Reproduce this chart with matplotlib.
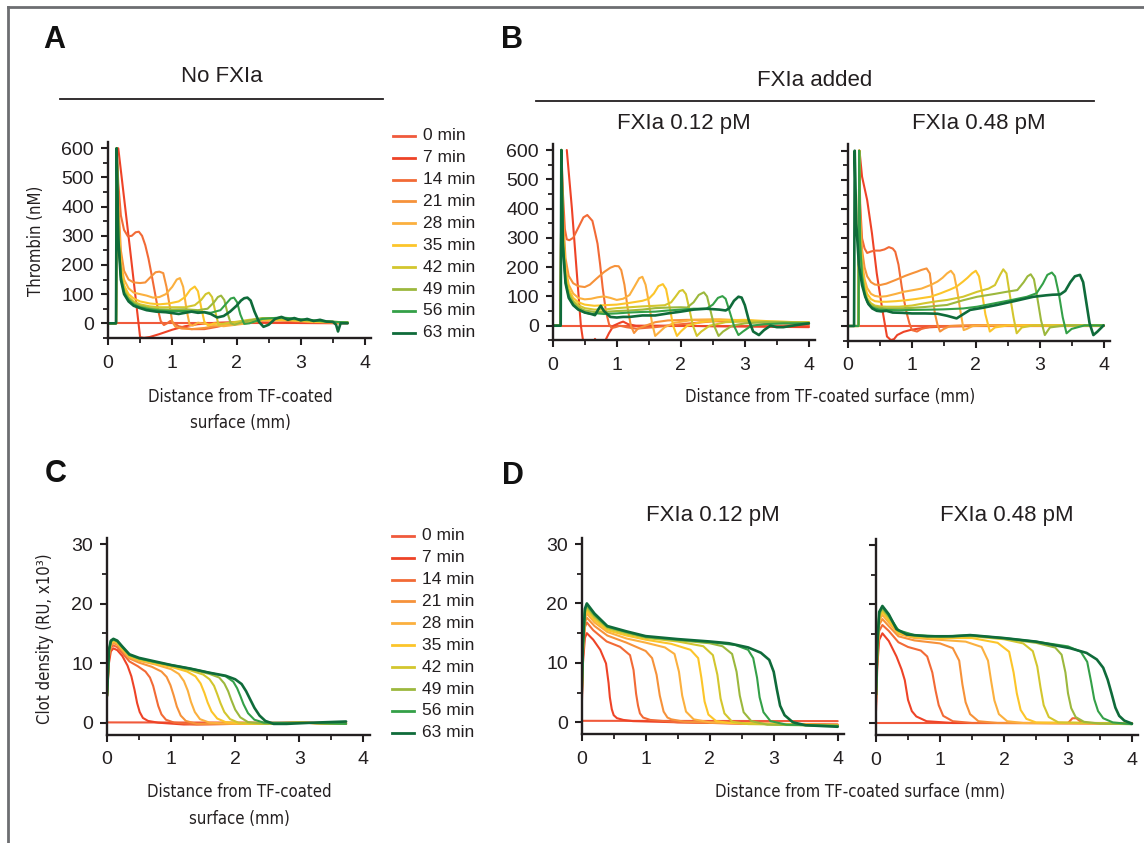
import matplotlib
matplotlib.use("Agg")
import matplotlib.pyplot as plt
from matplotlib import font_manager
from matplotlib.lines import Line2D
from matplotlib.ticker import MultipleLocator

W, H = 1144, 843

# ---- data -------------------------------------------------------------
TIMES = ['0 min', '7 min', '14 min', '21 min', '28 min',
         '35 min', '42 min', '49 min', '56 min', '63 min']
COLORS = ['#f05a3c', '#ee4327', '#f26a36', '#f6923a', '#fbb03f',
          '#fcc52a', '#d3c62e', '#9cb83d', '#34a048', '#0f6b3a']

# thrombin, no FXIa (panel A)
THR_A_X = [
    [0.13, 3.73],
    [0.16, 0.34, 0.5, 0.56, 0.65, 0.8, 1.0, 1.2, 1.4, 1.7, 2.0, 2.5, 3.0, 3.73],
    [0, 0.125, 0.135, 0.16, 0.2, 0.25, 0.31, 0.37, 0.43, 0.48, 0.53, 0.58, 0.63, 0.68, 0.73, 0.78, 0.82, 0.87, 0.92, 0.97, 1.02, 1.1, 1.3, 1.5, 1.7, 1.9, 2.2, 2.5, 2.8, 3.2, 3.73],
    [0, 0.125, 0.135, 0.16, 0.2, 0.25, 0.32, 0.4, 0.5, 0.58, 0.66, 0.74, 0.8, 0.86, 0.91, 0.96, 1.0, 1.05, 1.15, 1.3, 1.5, 1.7, 1.9, 2.2, 2.5, 2.8, 3.2, 3.73],
    [0, 0.125, 0.135, 0.16, 0.2, 0.25, 0.32, 0.4, 0.5, 0.6, 0.7, 0.8, 0.9, 1.0, 1.07, 1.12, 1.17, 1.22, 1.27, 1.32, 1.4, 1.55, 1.8, 2.1, 2.4, 2.8, 3.2, 3.73],
    [0, 0.125, 0.135, 0.16, 0.2, 0.25, 0.32, 0.4, 0.5, 0.65, 0.8, 0.95, 1.1, 1.2, 1.28, 1.35, 1.4, 1.45, 1.5, 1.56, 1.65, 1.8, 2.1, 2.4, 2.8, 3.2, 3.73],
    [0, 0.125, 0.135, 0.16, 0.2, 0.25, 0.32, 0.4, 0.5, 0.65, 0.8, 1.0, 1.2, 1.35, 1.45, 1.52, 1.57, 1.62, 1.67, 1.72, 1.78, 1.9, 2.2, 2.5, 2.8, 3.2, 3.73],
    [0, 0.125, 0.135, 0.16, 0.2, 0.25, 0.32, 0.4, 0.5, 0.65, 0.8, 1.0, 1.2, 1.4, 1.55, 1.65, 1.71, 1.76, 1.81, 1.86, 1.91, 1.97, 2.1, 2.4, 2.7, 3.0, 3.4, 3.73],
    [0, 0.125, 0.135, 0.16, 0.2, 0.25, 0.32, 0.4, 0.5, 0.65, 0.8, 1.0, 1.2, 1.4, 1.6, 1.75, 1.85, 1.91, 1.96, 2.01, 2.06, 2.12, 2.2, 2.4, 2.7, 3.0, 3.4, 3.73],
    [0, 0.125, 0.135, 0.16, 0.2, 0.25, 0.32, 0.4, 0.5, 0.6, 0.75, 0.9, 1.0, 1.1, 1.2, 1.3, 1.4, 1.5, 1.6, 1.7, 1.8, 1.9, 2.0, 2.07, 2.12, 2.17, 2.22, 2.28, 2.35, 2.42, 2.5, 2.6, 2.7, 2.8, 2.9, 3.0, 3.1, 3.2, 3.3, 3.4, 3.5, 3.55, 3.58, 3.62, 3.73],
]
THR_A_Y = [
    [0, 0],
    [600, 260, -48, -50, -47, -37, -22, -10, -3, 2, 4, 3, 1, 0],
    [0, 0, 600, 480, 370, 320, 298, 300, 312, 314, 300, 268, 222, 165, 105, 45, 8, -6, 0, 8, 2, -10, -20, -20, -12, -2, 8, 14, 8, 3, 2],
    [0, 0, 600, 420, 250, 180, 150, 140, 138, 140, 158, 175, 177, 172, 125, 60, 5, -12, -18, -20, -16, -8, 0, 10, 18, 12, 5, 2],
    [0, 0, 600, 380, 210, 150, 120, 105, 100, 95, 88, 90, 100, 125, 150, 155, 125, 50, -5, -8, 2, -3, -10, -2, 10, 10, 5, 2],
    [0, 0, 600, 350, 190, 130, 100, 85, 75, 68, 65, 68, 75, 90, 115, 126, 110, 55, 5, -8, 0, -2, 5, 12, 12, 6, 3],
    [0, 0, 600, 330, 175, 118, 90, 75, 65, 58, 55, 55, 55, 62, 80, 100, 105, 90, 40, -5, -2, 2, 12, 18, 14, 8, 3],
    [0, 0, 600, 310, 165, 110, 85, 70, 60, 52, 48, 47, 48, 45, 50, 72, 90, 95, 80, 35, 0, -5, 5, 18, 18, 12, 6, 3],
    [0, 0, 600, 300, 158, 105, 80, 65, 55, 48, 44, 42, 42, 40, 36, 45, 70, 85, 88, 72, 30, -2, 0, 15, 20, 14, 6, 3],
    [0, 0, 600, 290, 150, 100, 75, 60, 52, 45, 40, 38, 35, 32, 36, 40, 36, 38, 32, 20, 25, 40, 60, 78, 86, 88, 78, 40, 5, -12, -5, 15, 22, 12, 18, 10, 15, 8, 12, 6, 5, -5, -28, 0, 0],
]

# thrombin, FXIa 0.12 pM (panel B, left)
THR_B1_X = [
    [0.13, 4.0],
    [0.22, 0.3, 0.38, 0.44, 0.48, 0.55, 0.62, 0.66, 0.7, 0.8, 0.88, 0.95, 1.05, 1.1, 1.18, 1.3, 1.6, 2.0, 2.5, 3.0, 3.5, 4.0],
    [0, 0.125, 0.135, 0.16, 0.19, 0.22, 0.26, 0.32, 0.4, 0.48, 0.54, 0.58, 0.62, 0.66, 0.7, 0.74, 0.78, 0.83, 0.88, 0.92, 0.98, 1.05, 1.15, 1.3, 1.6, 2.0, 2.5, 3.0, 3.5, 4.0],
    [0, 0.125, 0.135, 0.16, 0.2, 0.25, 0.32, 0.4, 0.5, 0.58, 0.68, 0.8, 0.9, 0.97, 1.03, 1.07, 1.12, 1.17, 1.22, 1.27, 1.33, 1.45, 1.6, 1.8, 2.1, 2.5, 2.9, 3.3, 3.7, 4.0],
    [0, 0.125, 0.135, 0.16, 0.2, 0.25, 0.32, 0.4, 0.5, 0.6, 0.7, 0.8, 0.9, 1.0, 1.1, 1.2, 1.28, 1.35, 1.4, 1.45, 1.5, 1.55, 1.6, 1.65, 1.75, 1.9, 2.2, 2.6, 3.0, 3.4, 3.8, 4.0],
    [0, 0.125, 0.135, 0.16, 0.2, 0.25, 0.32, 0.4, 0.5, 0.65, 0.8, 1.0, 1.2, 1.4, 1.5, 1.58, 1.65, 1.72, 1.77, 1.82, 1.88, 1.94, 2.0, 2.1, 2.3, 2.6, 3.0, 3.4, 3.8, 4.0],
    [0, 0.125, 0.135, 0.16, 0.2, 0.25, 0.32, 0.4, 0.5, 0.65, 0.8, 1.0, 1.2, 1.4, 1.6, 1.75, 1.85, 1.92, 1.98, 2.03, 2.08, 2.13, 2.19, 2.25, 2.32, 2.45, 2.7, 3.0, 3.4, 3.8, 4.0],
    [0, 0.125, 0.135, 0.16, 0.2, 0.25, 0.32, 0.4, 0.5, 0.65, 0.8, 1.0, 1.2, 1.4, 1.6, 1.8, 2.0, 2.1, 2.2, 2.28, 2.36, 2.41, 2.46, 2.52, 2.59, 2.66, 2.8, 3.0, 3.3, 3.6, 4.0],
    [0, 0.125, 0.135, 0.16, 0.2, 0.25, 0.32, 0.4, 0.5, 0.6, 0.7, 0.8, 1.0, 1.2, 1.4, 1.6, 1.8, 2.0, 2.2, 2.4, 2.5, 2.58, 2.65, 2.7, 2.76, 2.83, 2.9, 2.97, 3.1, 3.3, 3.6, 4.0],
    [0, 0.125, 0.135, 0.16, 0.2, 0.25, 0.32, 0.4, 0.5, 0.6, 0.66, 0.71, 0.75, 0.8, 0.9, 1.0, 1.1, 1.2, 1.4, 1.6, 1.8, 2.0, 2.2, 2.4, 2.6, 2.7, 2.76, 2.83, 2.9, 2.95, 3.0, 3.06, 3.13, 3.22, 3.3, 3.4, 3.5, 3.6, 3.8, 4.0],
]
THR_B1_Y = [
    [0, 0],
    [600, 400, 170, 0, -60, -90, -70, -45, -60, -60, -25, 0, 10, 14, 5, 0, 0, 0, -2, -3, -4, -5],
    [0, 0, 600, 450, 330, 295, 292, 300, 335, 370, 378, 368, 358, 320, 280, 210, 130, 50, 5, -8, -5, 0, -5, -10, -5, 5, 15, 15, 8, 5],
    [0, 0, 600, 380, 230, 170, 145, 135, 132, 140, 160, 183, 198, 204, 203, 190, 140, 60, 0, -25, -10, 0, 12, 18, 20, 20, 18, 12, 8, 8],
    [0, 0, 600, 340, 200, 140, 110, 95, 90, 92, 97, 100, 95, 88, 92, 105, 135, 162, 167, 140, 80, 10, -35, -25, -5, 10, 20, 22, 18, 12, 10, 10],
    [0, 0, 600, 320, 185, 125, 95, 80, 72, 68, 70, 72, 78, 85, 92, 110, 135, 142, 125, 70, 0, -35, -20, 0, 12, 18, 20, 15, 12, 12],
    [0, 0, 600, 300, 170, 115, 85, 70, 60, 55, 55, 60, 63, 66, 68, 70, 80, 100, 118, 122, 108, 60, 0, -35, -20, 0, 12, 15, 14, 12, 12],
    [0, 0, 600, 290, 160, 108, 80, 62, 52, 47, 47, 50, 52, 55, 60, 62, 63, 62, 80, 105, 114, 100, 55, 0, -35, -20, 0, 8, 12, 12, 10],
    [0, 0, 600, 280, 150, 100, 72, 55, 45, 40, 42, 40, 42, 45, 47, 48, 52, 55, 58, 58, 72, 95, 101, 92, 50, 0, -32, -20, 0, 5, 8, 8],
    [0, 0, 600, 270, 145, 95, 70, 55, 45, 40, 36, 55, 68, 50, 30, 28, 30, 30, 35, 35, 42, 48, 55, 58, 55, 52, 60, 85, 99, 96, 70, 20, -20, -32, -15, 0, -5, -5, 2, 8],
]

# thrombin, FXIa 0.48 pM (panel B, right)
THR_B2_X = [
    [0.11, 4.0],
    [0.18, 0.22, 0.3, 0.375, 0.45, 0.53, 0.61, 0.67, 0.72, 0.77, 0.87, 0.97, 1.1, 1.23, 1.5, 2.0, 3.0, 4.0],
    [0, 0.165, 0.175, 0.19, 0.22, 0.26, 0.3, 0.36, 0.42, 0.5, 0.57, 0.64, 0.7, 0.74, 0.79, 0.84, 0.88, 0.92, 0.96, 1.0, 1.08, 1.15, 1.3, 1.6, 2.0, 3.0, 4.0],
    [0, 0.165, 0.175, 0.19, 0.22, 0.26, 0.3, 0.36, 0.42, 0.5, 0.6, 0.75, 0.9, 1.0, 1.08, 1.15, 1.23, 1.28, 1.32, 1.36, 1.4, 1.44, 1.5, 1.6, 2.0, 3.0, 4.0],
    [0, 0.165, 0.175, 0.19, 0.22, 0.26, 0.3, 0.36, 0.42, 0.5, 0.6, 0.75, 0.87, 1.0, 1.15, 1.29, 1.4, 1.48, 1.55, 1.61, 1.66, 1.71, 1.76, 1.81, 1.86, 1.95, 2.2, 3.0, 4.0],
    [0, 0.165, 0.175, 0.19, 0.22, 0.26, 0.3, 0.36, 0.42, 0.5, 0.6, 0.75, 0.9, 1.05, 1.2, 1.29, 1.45, 1.6, 1.7, 1.8, 1.87, 1.94, 2.0, 2.05, 2.1, 2.15, 2.22, 2.3, 2.5, 3.0, 4.0],
    [0, 0.165, 0.175, 0.19, 0.22, 0.26, 0.3, 0.36, 0.42, 0.5, 0.6, 0.8, 1.0, 1.2, 1.4, 1.55, 1.8, 2.02, 2.2, 2.3, 2.38, 2.43, 2.48, 2.53, 2.59, 2.64, 2.72, 2.9, 3.5, 4.0],
    [0, 0.165, 0.175, 0.19, 0.22, 0.26, 0.3, 0.36, 0.42, 0.5, 0.6, 0.8, 1.0, 1.2, 1.55, 1.8, 2.02, 2.3, 2.48, 2.65, 2.75, 2.81, 2.86, 2.91, 2.96, 3.02, 3.08, 3.16, 3.4, 4.0],
    [0, 0.165, 0.175, 0.19, 0.22, 0.26, 0.3, 0.36, 0.42, 0.5, 0.6, 0.8, 1.0, 1.3, 1.5, 1.8, 2.02, 2.3, 2.56, 2.8, 2.95, 3.05, 3.12, 3.19, 3.24, 3.3, 3.36, 3.42, 3.5, 3.7, 4.0],
    [0, 0.095, 0.105, 0.13, 0.17, 0.22, 0.27, 0.32, 0.38, 0.45, 0.52, 0.6, 0.7, 0.85, 1.0, 1.2, 1.4, 1.55, 1.7, 1.8, 1.91, 2.1, 2.33, 2.6, 2.9, 3.1, 3.2, 3.32, 3.4, 3.48, 3.55, 3.63, 3.68, 3.73, 3.78, 3.84, 3.9, 4.0],
]
THR_B2_Y = [
    [0, 0],
    [600, 511, 431, 317, 180, 66, -36, -48, -45, -31, -20, -14, -9, -5, -2, 0, 0, 0],
    [0, 0, 600, 420, 300, 265, 250, 255, 258, 258, 262, 270, 265, 254, 210, 135, 85, 43, 10, -14, -19, -10, -2, 0, 2, 3, 2],
    [0, 0, 600, 380, 260, 200, 170, 150, 142, 140, 145, 158, 172, 180, 186, 192, 197, 180, 110, 43, 5, -19, -10, 0, 3, 2, 2],
    [0, 0, 600, 340, 220, 160, 130, 110, 103, 100, 102, 110, 117, 122, 128, 140, 152, 165, 180, 189, 175, 120, 50, -14, -10, 0, 2, 2, 2],
    [0, 0, 600, 320, 200, 140, 110, 92, 85, 83, 83, 85, 88, 92, 97, 100, 112, 125, 135, 152, 165, 180, 189, 170, 110, 40, -19, -5, 2, 2, 2],
    [0, 0, 600, 300, 185, 125, 95, 78, 70, 67, 66, 66, 70, 78, 85, 89, 100, 117, 128, 140, 175, 194, 180, 110, 30, -25, -5, 2, 2, 2],
    [0, 0, 600, 290, 175, 118, 88, 72, 65, 62, 60, 60, 62, 65, 72, 88, 100, 110, 117, 123, 150, 170, 177, 160, 100, 20, -31, -5, 2, 2],
    [0, 0, 600, 280, 168, 110, 82, 66, 60, 56, 55, 54, 55, 56, 57, 60, 66, 78, 89, 100, 112, 145, 175, 183, 170, 110, 30, -25, -10, 2, 2],
    [0, 0, 600, 350, 210, 140, 100, 75, 60, 52, 50, 52, 46, 45, 43, 43, 42, 35, 26, 40, 55, 62, 72, 85, 100, 105, 107, 108, 120, 150, 170, 175, 150, 80, 10, -31, -20, 2],
]

# clot density, no FXIa (panel C)
CLOT_C_X = [
    [0, 3.73],
    [0, 0.03, 0.06, 0.1, 0.16, 0.24, 0.32, 0.38, 0.43, 0.47, 0.51, 0.56, 0.64, 0.8, 1.2, 2.0, 3.0, 3.73],
    [0, 0.03, 0.06, 0.1, 0.16, 0.24, 0.35, 0.48, 0.6, 0.67, 0.72, 0.76, 0.8, 0.85, 0.92, 1.05, 1.4, 2.0, 3.0, 3.73],
    [0, 0.03, 0.06, 0.1, 0.16, 0.24, 0.35, 0.5, 0.7, 0.85, 0.93, 0.99, 1.04, 1.09, 1.15, 1.23, 1.4, 2.0, 3.0, 3.73],
    [0, 0.03, 0.06, 0.1, 0.16, 0.24, 0.35, 0.5, 0.75, 1.0, 1.12, 1.2, 1.26, 1.31, 1.37, 1.45, 1.6, 2.0, 3.0, 3.73],
    [0, 0.03, 0.06, 0.1, 0.16, 0.24, 0.35, 0.5, 0.75, 1.0, 1.25, 1.38, 1.46, 1.52, 1.57, 1.63, 1.72, 1.85, 2.2, 3.0, 3.73],
    [0, 0.03, 0.06, 0.1, 0.16, 0.24, 0.35, 0.5, 0.75, 1.0, 1.3, 1.5, 1.6, 1.67, 1.72, 1.77, 1.83, 1.92, 2.05, 2.4, 3.0, 3.73],
    [0, 0.03, 0.06, 0.1, 0.16, 0.24, 0.35, 0.5, 0.75, 1.0, 1.3, 1.6, 1.75, 1.83, 1.89, 1.94, 2.0, 2.08, 2.2, 2.5, 3.0, 3.73],
    [0, 0.03, 0.06, 0.1, 0.16, 0.24, 0.35, 0.5, 0.75, 1.0, 1.3, 1.6, 1.85, 1.97, 2.03, 2.08, 2.13, 2.2, 2.3, 2.45, 3.0, 3.73],
    [0, 0.03, 0.06, 0.1, 0.16, 0.24, 0.35, 0.5, 0.75, 1.0, 1.3, 1.6, 1.85, 2.0, 2.1, 2.17, 2.23, 2.3, 2.38, 2.47, 2.6, 2.8, 3.2, 3.73],
]
CLOT_C_Y = [
    [0.05, 0.0],
    [4.3, 10.0, 12.0, 12.5, 12.2, 11.2, 9.6, 7.8, 5.5, 3.3, 1.8, 0.8, 0.3, 0.0, -0.3, -0.2, 0.0, -0.2],
    [4.4, 10.8, 12.6, 13.0, 12.7, 11.7, 10.3, 9.5, 8.6, 7.6, 6.2, 4.5, 2.8, 1.4, 0.5, 0.0, -0.3, -0.2, 0.0, -0.2],
    [4.5, 11.2, 13.0, 13.4, 13.1, 12.1, 10.8, 10.1, 9.4, 8.6, 7.7, 6.3, 4.6, 2.7, 1.2, 0.3, -0.2, -0.2, 0.0, -0.2],
    [4.5, 11.5, 13.2, 13.6, 13.3, 12.3, 11.0, 10.4, 9.8, 9.0, 8.2, 7.0, 5.4, 3.5, 1.8, 0.6, 0.0, -0.2, 0.0, -0.2],
    [4.5, 11.7, 13.4, 13.8, 13.5, 12.5, 11.2, 10.6, 10.0, 9.4, 8.6, 7.8, 6.6, 5.0, 3.4, 1.9, 0.7, 0.1, -0.2, 0.0, -0.2],
    [4.5, 11.9, 13.5, 13.9, 13.6, 12.6, 11.3, 10.7, 10.1, 9.6, 8.8, 8.1, 7.3, 6.2, 4.8, 3.3, 1.8, 0.6, 0.0, -0.2, 0.0, -0.2],
    [4.5, 12.0, 13.6, 14.0, 13.7, 12.7, 11.4, 10.8, 10.2, 9.6, 9.0, 8.2, 7.6, 6.6, 5.3, 3.8, 2.2, 0.9, 0.1, -0.2, 0.0, -0.2],
    [4.5, 12.1, 13.7, 14.0, 13.7, 12.7, 11.4, 10.8, 10.2, 9.7, 9.1, 8.4, 7.8, 6.9, 5.8, 4.5, 3.1, 1.6, 0.5, 0.0, 0.0, -0.2],
    [4.5, 12.2, 13.8, 14.1, 13.8, 12.8, 11.5, 10.9, 10.3, 9.7, 9.1, 8.4, 7.9, 7.3, 6.5, 5.3, 4.0, 2.5, 1.2, 0.3, -0.2, -0.2, 0.0, 0.2],
]

# clot density, FXIa 0.12 pM (panel D, left)
CLOT_D1_X = [
    [0, 4.0],
    [0, 0.02, 0.05, 0.08, 0.18, 0.29, 0.38, 0.42, 0.44, 0.47, 0.5, 0.55, 0.65, 0.8, 1.5, 2.5, 4.0],
    [0, 0.02, 0.05, 0.08, 0.18, 0.39, 0.6, 0.755, 0.81, 0.85, 0.88, 0.91, 0.96, 1.07, 1.5, 2.5, 4.0],
    [0, 0.02, 0.05, 0.08, 0.2, 0.4, 0.7, 1.0, 1.1, 1.17, 1.22, 1.28, 1.34, 1.4, 1.6, 2.5, 4.0],
    [0, 0.02, 0.05, 0.08, 0.2, 0.4, 0.7, 1.0, 1.3, 1.45, 1.52, 1.57, 1.63, 1.75, 2.0, 3.0, 4.0],
    [0, 0.02, 0.05, 0.08, 0.2, 0.4, 0.7, 1.0, 1.4, 1.7, 1.82, 1.87, 1.92, 1.98, 2.1, 2.3, 3.0, 4.0],
    [0, 0.02, 0.05, 0.08, 0.2, 0.4, 0.7, 1.0, 1.5, 1.9, 2.05, 2.12, 2.17, 2.23, 2.35, 2.6, 3.2, 4.0],
    [0, 0.02, 0.05, 0.08, 0.2, 0.4, 0.7, 1.0, 1.5, 2.0, 2.2, 2.35, 2.42, 2.47, 2.53, 2.65, 2.9, 4.0],
    [0, 0.02, 0.05, 0.08, 0.2, 0.4, 0.7, 1.0, 1.5, 2.0, 2.4, 2.6, 2.68, 2.74, 2.78, 2.84, 2.95, 3.2, 4.0],
    [0, 0.02, 0.05, 0.08, 0.2, 0.4, 0.7, 1.0, 1.5, 2.0, 2.3, 2.6, 2.8, 2.93, 3.0, 3.05, 3.1, 3.17, 3.3, 3.5, 4.0],
]
CLOT_D1_Y = [
    [0.25, 0.2],
    [2.0, 10.0, 14.2, 15.0, 13.9, 12.2, 9.9, 6.6, 4.2, 2.2, 1.2, 0.7, 0.4, 0.2, 0.0, -0.2, -0.4],
    [3.0, 11.0, 16.0, 16.8, 15.5, 13.6, 12.7, 11.3, 8.8, 4.8, 2.8, 1.5, 0.8, 0.4, 0.0, -0.2, -0.4],
    [3.5, 11.5, 16.8, 17.6, 16.2, 14.6, 13.4, 12.0, 10.8, 8.0, 4.5, 1.8, 0.8, 0.5, 0.1, -0.2, -0.4],
    [4.0, 12.0, 17.4, 18.3, 16.8, 15.2, 14.1, 13.4, 12.6, 11.5, 8.5, 4.5, 1.8, 0.5, 0.0, -0.3, -0.5],
    [4.3, 12.3, 17.9, 18.8, 17.2, 15.5, 14.6, 13.9, 13.2, 12.2, 10.8, 7.5, 3.5, 1.3, 0.2, -0.1, -0.3, -0.5],
    [4.5, 12.6, 18.3, 19.2, 17.6, 15.8, 14.9, 14.2, 13.6, 12.8, 11.3, 8.0, 4.0, 1.5, 0.1, -0.3, -0.4, -0.6],
    [4.6, 12.8, 18.6, 19.5, 17.9, 16.0, 15.1, 14.3, 13.8, 13.3, 12.8, 11.5, 8.5, 4.5, 1.7, 0.2, -0.4, -0.6],
    [4.7, 13.0, 18.9, 19.8, 18.1, 16.1, 15.2, 14.4, 13.9, 13.5, 13.0, 12.2, 10.8, 7.5, 4.2, 1.7, 0.2, -0.4, -0.6],
    [4.8, 13.2, 19.1, 20.0, 18.3, 16.2, 15.3, 14.5, 14.0, 13.6, 13.3, 12.6, 11.7, 10.5, 8.5, 5.5, 2.8, 1.2, 0.0, -0.5, -0.75],
]

# clot density, FXIa 0.48 pM (panel D, right)
CLOT_D2_X = [
    [0, 4.0],
    [0, 0.02, 0.05, 0.1, 0.2, 0.32, 0.4, 0.45, 0.5, 0.56, 0.63, 0.79, 1.2, 2.5, 4.0],
    [0, 0.02, 0.05, 0.1, 0.2, 0.35, 0.5, 0.7, 0.8, 0.88, 0.93, 0.98, 1.05, 1.2, 1.5, 3.0, 3.07, 3.13, 3.2, 3.3, 4.0],
    [0, 0.02, 0.05, 0.1, 0.2, 0.35, 0.6, 1.0, 1.2, 1.3, 1.35, 1.4, 1.47, 1.6, 1.9, 4.0],
    [0, 0.02, 0.05, 0.1, 0.2, 0.35, 0.6, 1.0, 1.4, 1.65, 1.75, 1.8, 1.85, 1.92, 2.05, 2.3, 4.0],
    [0, 0.02, 0.05, 0.1, 0.2, 0.35, 0.6, 1.0, 1.5, 1.9, 2.08, 2.15, 2.2, 2.26, 2.35, 2.5, 4.0],
    [0, 0.02, 0.05, 0.1, 0.2, 0.35, 0.6, 1.0, 1.5, 2.0, 2.3, 2.45, 2.52, 2.57, 2.62, 2.7, 2.85, 4.0],
    [0, 0.02, 0.05, 0.1, 0.2, 0.35, 0.6, 1.0, 1.5, 2.0, 2.5, 2.8, 2.9, 2.96, 3.0, 3.05, 3.12, 3.25, 3.5, 4.0],
    [0, 0.02, 0.05, 0.1, 0.2, 0.35, 0.6, 1.0, 1.5, 2.0, 2.5, 3.0, 3.2, 3.3, 3.36, 3.41, 3.47, 3.55, 3.7, 4.0],
    [0, 0.02, 0.05, 0.1, 0.2, 0.32, 0.48, 0.8, 1.2, 1.47, 2.0, 2.5, 3.03, 3.29, 3.45, 3.55, 3.62, 3.68, 3.74, 3.8, 3.88, 4.0],
]
CLOT_D2_Y = [
    [0.0, 0.0],
    [2.0, 9.5, 14.0, 15.1, 13.8, 11.2, 9.0, 7.2, 3.9, 2.0, 1.1, 0.3, 0.0, 0.0, -0.1],
    [3.0, 10.5, 15.5, 16.5, 15.5, 13.6, 12.8, 12.2, 11.2, 8.5, 5.5, 3.0, 1.2, 0.3, 0.0, 0.0, 0.8, 0.8, 0.2, 0.0, -0.1],
    [3.5, 11.0, 16.5, 17.5, 16.3, 14.6, 13.9, 13.4, 12.6, 10.5, 6.5, 3.5, 1.5, 0.3, 0.0, -0.1],
    [4.0, 11.5, 17.2, 18.2, 16.9, 15.0, 14.3, 14.0, 13.7, 12.8, 10.5, 7.0, 3.8, 1.5, 0.3, 0.0, -0.1],
    [4.3, 12.0, 17.7, 18.7, 17.3, 15.2, 14.5, 14.3, 14.3, 13.5, 12.0, 8.5, 5.0, 2.2, 0.7, 0.1, -0.1],
    [4.5, 12.3, 18.0, 19.0, 17.7, 15.4, 14.6, 14.5, 14.6, 14.1, 13.4, 12.1, 9.5, 6.0, 3.0, 1.0, 0.1, -0.1],
    [4.6, 12.6, 18.3, 19.3, 17.9, 15.5, 14.7, 14.6, 14.7, 14.2, 13.5, 12.7, 11.5, 8.5, 5.0, 2.5, 1.0, 0.2, -0.1, -0.2],
    [4.7, 12.8, 18.5, 19.5, 18.1, 15.6, 14.8, 14.6, 14.75, 14.3, 13.7, 12.9, 12.0, 10.3, 7.0, 4.0, 2.0, 0.8, 0.1, -0.2],
    [4.8, 13.0, 18.7, 19.7, 18.3, 15.8, 14.9, 14.6, 14.6, 14.8, 14.3, 13.7, 12.6, 11.8, 10.7, 9.3, 7.3, 5.0, 2.6, 1.2, 0.4, -0.1],
]

# ---- fonts --------------------------------------------------------------
names = {f.name for f in font_manager.fontManager.ttflist}
plt.rcParams['font.family'] = ['Liberation Sans', 'DejaVu Sans']
if 'Liberation Sans Narrow' in names:
    LAB = dict(family=['Liberation Sans Narrow', 'DejaVu Sans'], fontsize=14.5)
else:
    LAB = dict(family=['DejaVu Sans'], fontstretch='condensed', fontsize=12)

INK = '#231f20'
fig = plt.figure(figsize=(W / 100, H / 100), dpi=100)


def ftext(x, y, s, **kw):
    kw.setdefault('ha', 'center')
    kw.setdefault('va', 'center')
    kw.setdefault('color', INK)
    return fig.text(x / W, 1 - y / H, s, **kw)


def fline(xs, ys, **kw):
    fig.add_artist(Line2D([x / W for x in xs], [1 - y / H for y in ys], **kw))


def make_axes(x0, xs, y0, ys, ylim, major, minor, ylabels=True):
    bottom = y0 - ylim[0] * ys
    rect = [x0 / W, 1 - bottom / H, 4.1 * xs / W, (ylim[1] - ylim[0]) * ys / H]
    ax = fig.add_axes(rect)
    ax.set_xlim(0, 4.1)
    ax.set_ylim(*ylim)
    for s in ['top', 'right']:
        ax.spines[s].set_visible(False)
    for s in ['left', 'bottom']:
        ax.spines[s].set_linewidth(1.7)
        ax.spines[s].set_color(INK)
    ax.set_xticks([0, 1, 2, 3, 4])
    ax.xaxis.set_minor_locator(MultipleLocator(0.5))
    ax.yaxis.set_major_locator(MultipleLocator(major))
    ax.yaxis.set_minor_locator(MultipleLocator(minor))
    ax.tick_params(which='major', direction='out', length=5, width=1.5,
                   color=INK, labelcolor=INK, labelsize=14)
    ax.tick_params(which='minor', direction='out', length=3.5, width=1.3, color=INK)
    ax.tick_params(axis='x', pad=7)
    ax.tick_params(axis='y', pad=5)
    if not ylabels:
        ax.tick_params(axis='y', labelleft=False)
    ax.set_facecolor('none')
    return ax


def draw(ax, xs, ys):
    for i in range(len(TIMES)):
        lw = 1.9 if i == 9 else 1.5
        ax.plot(xs[i], ys[i], color=COLORS[i], lw=lw, solid_joinstyle='round',
                solid_capstyle='round')


thr_ylim = (-50, 622)
ax_a = make_axes(108, 64.25, 323.3, 0.2917, thr_ylim, 100, 50)
ax_b1 = make_axes(552.7, 64.05, 325.7, 0.2928, thr_ylim, 100, 50)
ax_b2 = make_axes(848, 63.9, 326, 0.2922, thr_ylim, 100, 50, ylabels=False)
clot_ylim = (-2, 31)
ax_c = make_axes(107, 64.1, 722.7, 5.947, clot_ylim, 10, 5)
ax_d1 = make_axes(581.7, 64, 722.3, 5.943, clot_ylim, 10, 5)
ax_d2 = make_axes(876, 64, 723, 5.94, clot_ylim, 10, 5, ylabels=False)

draw(ax_a, THR_A_X, THR_A_Y)
draw(ax_b1, THR_B1_X, THR_B1_Y)
draw(ax_b2, THR_B2_X, THR_B2_Y)
draw(ax_c, CLOT_C_X, CLOT_C_Y)
draw(ax_d1, CLOT_D1_X, CLOT_D1_Y)
draw(ax_d2, CLOT_D2_X, CLOT_D2_Y)

# axis labels
ftext(36, 241, 'Thrombin (nM)', rotation=90, **LAB)
ftext(45, 639, 'Clot density (RU, x10³)', rotation=90, **LAB)
ftext(240, 397, 'Distance from TF-coated', **LAB)
ftext(240, 423, 'surface (mm)', **LAB)
ftext(239, 792, 'Distance from TF-coated', **LAB)
ftext(239, 819, 'surface (mm)', **LAB)
ftext(830, 397, 'Distance from TF-coated surface (mm)', **LAB)
ftext(860, 792, 'Distance from TF-coated surface (mm)', **LAB)

# titles and headers
ftext(222, 77, 'No FXIa', fontsize=16)
fline([60, 383], [99, 99], color=INK, lw=1.3)
ftext(815, 80, 'FXIa added', fontsize=16)
fline([536, 1094], [101, 101], color=INK, lw=1.3)
ftext(684, 123, 'FXIa 0.12 pM', fontsize=16)
ftext(979, 123, 'FXIa 0.48 pM', fontsize=16)
ftext(713, 515, 'FXIa 0.12 pM', fontsize=16)
ftext(1007, 516, 'FXIa 0.48 pM', fontsize=16)

# panel letters
for letter, x, y in [('A', 54, 40), ('B', 512, 40), ('C', 56, 474), ('D', 513, 476)]:
    ftext(x, y, letter, fontsize=22, fontweight='bold', color='#111111')

# legends
for top, lx in [(135.7, 393), (535.7, 392)]:
    for i, lab in enumerate(TIMES):
        y = top + i * 21.9
        fline([lx, lx + 22], [y, y], color=COLORS[i], lw=2)
        ftext(lx + 30, y, lab, ha='left', fontsize=12.5)

# frame
fline([8, W], [7, 7], color='#6d6e71', lw=2)
fline([8, 8], [7, H], color='#6d6e71', lw=2)

fig.savefig('out.png', dpi=100)
